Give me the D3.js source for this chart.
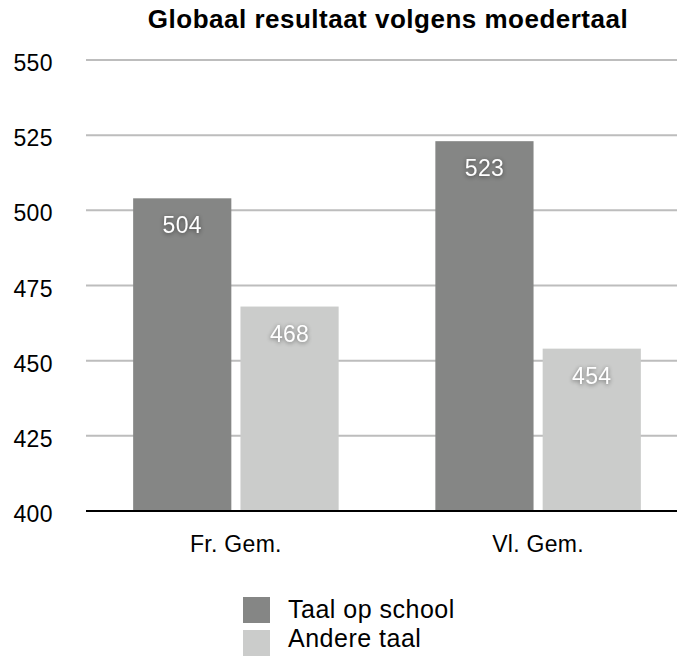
<!DOCTYPE html>
<head>
    <meta charset="utf-8">
    <script src="https://d3js.org/d3.v7.min.js"></script>
    <style>
        body { margin: 0; background: #fff; }
        text { font-family: "Liberation Sans", Arial, sans-serif; }
        .grid line { stroke: #bdbdbd; stroke-width: 2px; }
        .val { fill: #fff; filter: drop-shadow(0px 1px 2px rgba(0,0,0,0.45)); }
    </style>
</head>
<body>
    <svg width="677" height="656"></svg>
    <script>
        var width = 677, height = 656;

        var categories = ["Fr. Gem.", "Vl. Gem."];
        var series = ["Taal op school", "Andere taal"];
        var taalOpSchool = [504, 523];
        var andereTaal = [468, 454];
        var yTicks = [400, 425, 450, 475, 500, 525, 550];
        var colors = ["#858685", "#cbcccb"];

        var svg = d3.select("svg");

        var y = d3.scaleLinear().domain([400, 550]).range([511, 60]);
        var x0 = d3.scaleBand().domain(categories).range([86, 688])
            .paddingInner(0.32).paddingOuter(0.156);
        var x1 = d3.scaleBand().domain(series).range([0, x0.bandwidth()])
            .paddingInner(0.085);

        svg.append("text")
            .attr("x", 388).attr("y", 28)
            .attr("text-anchor", "middle")
            .attr("font-size", 26).attr("font-weight", "bold")
            .attr("letter-spacing", 0.5)
            .text("Globaal resultaat volgens moedertaal");

        // gridlines
        svg.append("g").attr("class", "grid")
            .selectAll("line")
            .data(yTicks.filter(d => d > 400))
            .enter().append("line")
            .attr("x1", 86).attr("x2", width)
            .attr("y1", d => y(d)).attr("y2", d => y(d));

        // y tick labels
        svg.append("g")
            .selectAll("text")
            .data(yTicks)
            .enter().append("text")
            .attr("x", 53).attr("y", d => y(d) + 11)
            .attr("text-anchor", "end")
            .attr("font-size", 23)
            .attr("letter-spacing", 0.4)
            .text(d => d);

        var rows = categories.map((c, i) => ({
            cat: c,
            vals: [
                { s: series[0], v: taalOpSchool[i] },
                { s: series[1], v: andereTaal[i] }
            ]
        }));

        var group = svg.append("g")
            .selectAll("g")
            .data(rows)
            .enter().append("g")
            .attr("transform", d => "translate(" + x0(d.cat) + ",0)");

        group.selectAll("rect")
            .data(d => d.vals)
            .enter().append("rect")
            .attr("x", d => x1(d.s))
            .attr("width", x1.bandwidth())
            .attr("y", d => y(d.v))
            .attr("height", d => y(400) - y(d.v))
            .attr("fill", (d, i) => colors[i]);

        group.selectAll("text.val")
            .data(d => d.vals)
            .enter().append("text")
            .attr("class", "val")
            .attr("x", d => x1(d.s) + x1.bandwidth() / 2)
            .attr("y", d => y(d.v) + 35)
            .attr("text-anchor", "middle")
            .attr("font-size", 23)
            .attr("letter-spacing", 0.3)
            .text(d => d.v);

        // baseline
        svg.append("line")
            .attr("x1", 86).attr("x2", width)
            .attr("y1", y(400)).attr("y2", y(400))
            .attr("stroke", "#000").attr("stroke-width", 2);

        // category labels
        svg.append("g")
            .selectAll("text")
            .data(categories)
            .enter().append("text")
            .attr("x", d => x0(d) + x0.bandwidth() / 2)
            .attr("y", 552)
            .attr("text-anchor", "middle")
            .attr("font-size", 23)
            .attr("letter-spacing", 0.3)
            .text(d => d);

        // legend
        var legend = svg.append("g")
            .selectAll("g")
            .data(series)
            .enter().append("g");

        legend.append("rect")
            .attr("x", 243)
            .attr("y", (d, i) => 597 + i * 33)
            .attr("width", 27).attr("height", 26)
            .attr("fill", (d, i) => colors[i]);

        legend.append("text")
            .attr("x", 288)
            .attr("y", (d, i) => 618 + i * 29)
            .attr("font-size", 25)
            .attr("letter-spacing", 0.5)
            .text(d => d);
    </script>
</body>
